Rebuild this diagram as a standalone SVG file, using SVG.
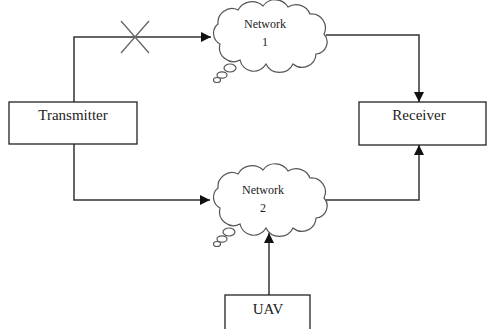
<svg xmlns="http://www.w3.org/2000/svg" width="487" height="329" viewBox="0 0 487 329">
<style>
.box{fill:#fff;stroke:#222;stroke-width:1.3}
.ln{fill:none;stroke:#333;stroke-width:1.5}
.cl{fill:#fff;stroke:#555;stroke-width:1.2}
.t{font-family:"Liberation Serif","Times New Roman",serif;fill:#222;text-anchor:middle}
.big{font-size:15px}
.sm{font-size:12px}
</style>
<defs>
<marker id="ah" viewBox="0 0 10 10" refX="10" refY="5" markerWidth="10" markerHeight="10" markerUnits="userSpaceOnUse" orient="auto">
<path d="M0,0 L10,5 L0,10 Z" fill="#111"/>
</marker>
<path id="cloud" d="M12,42 A12,12 0 0 1 10,22 A14,14 0 0 1 30,8 A16,16 0 0 1 55,4 A15,15 0 0 1 80,5 A15,15 0 0 1 102,12 A14,14 0 0 1 116,32 A12,12 0 0 1 108,52 A14,14 0 0 1 85,62 A15,15 0 0 1 58,62 A14,14 0 0 1 32,58 A14,14 0 0 1 12,42 Z"/>
</defs>
<g id="connectors">
<path class="ln" d="M74,102 V37 H211" marker-end="url(#ah)"/>
<path d="M121,21 L149,53 M149,21 L121,53" stroke="#666" stroke-width="1.3"/>
<path class="ln" d="M74,144 V200 H210" marker-end="url(#ah)"/>
<path class="ln" d="M326,35 H419 V102" marker-end="url(#ah)"/>
<path class="ln" d="M326,200 H419 V145" marker-end="url(#ah)"/>
<path class="ln" d="M269,295 V233" marker-end="url(#ah)"/>
</g>
<g id="transmitter">
<rect class="box" x="9" y="102" width="128" height="42"/>
<text class="t big" x="73" y="120">Transmitter</text>
</g>
<g id="receiver">
<rect class="box" x="359" y="102" width="127" height="43"/>
<text class="t big" x="419" y="120">Receiver</text>
</g>
<g id="uav">
<rect class="box" x="225" y="295" width="85" height="40"/>
<text class="t big" x="268" y="314">UAV</text>
</g>
<g id="network1">
<use href="#cloud" class="cl" transform="translate(208,2)"/>
<ellipse class="cl" cx="230" cy="68" rx="6" ry="4"/>
<ellipse class="cl" cx="222" cy="75" rx="5" ry="3.2"/>
<ellipse class="cl" cx="217" cy="80" rx="3.5" ry="2.5"/>
<text class="t sm" x="265" y="28">Network</text>
<text class="t sm" x="265" y="46">1</text>
</g>
<g id="network2">
<use href="#cloud" class="cl" transform="translate(208,166)"/>
<ellipse class="cl" cx="229" cy="232" rx="6" ry="4"/>
<ellipse class="cl" cx="222" cy="239" rx="5" ry="3.2"/>
<ellipse class="cl" cx="217" cy="244" rx="3.5" ry="2.5"/>
<text class="t sm" x="263" y="194">Network</text>
<text class="t sm" x="263" y="212">2</text>
</g>
</svg>
